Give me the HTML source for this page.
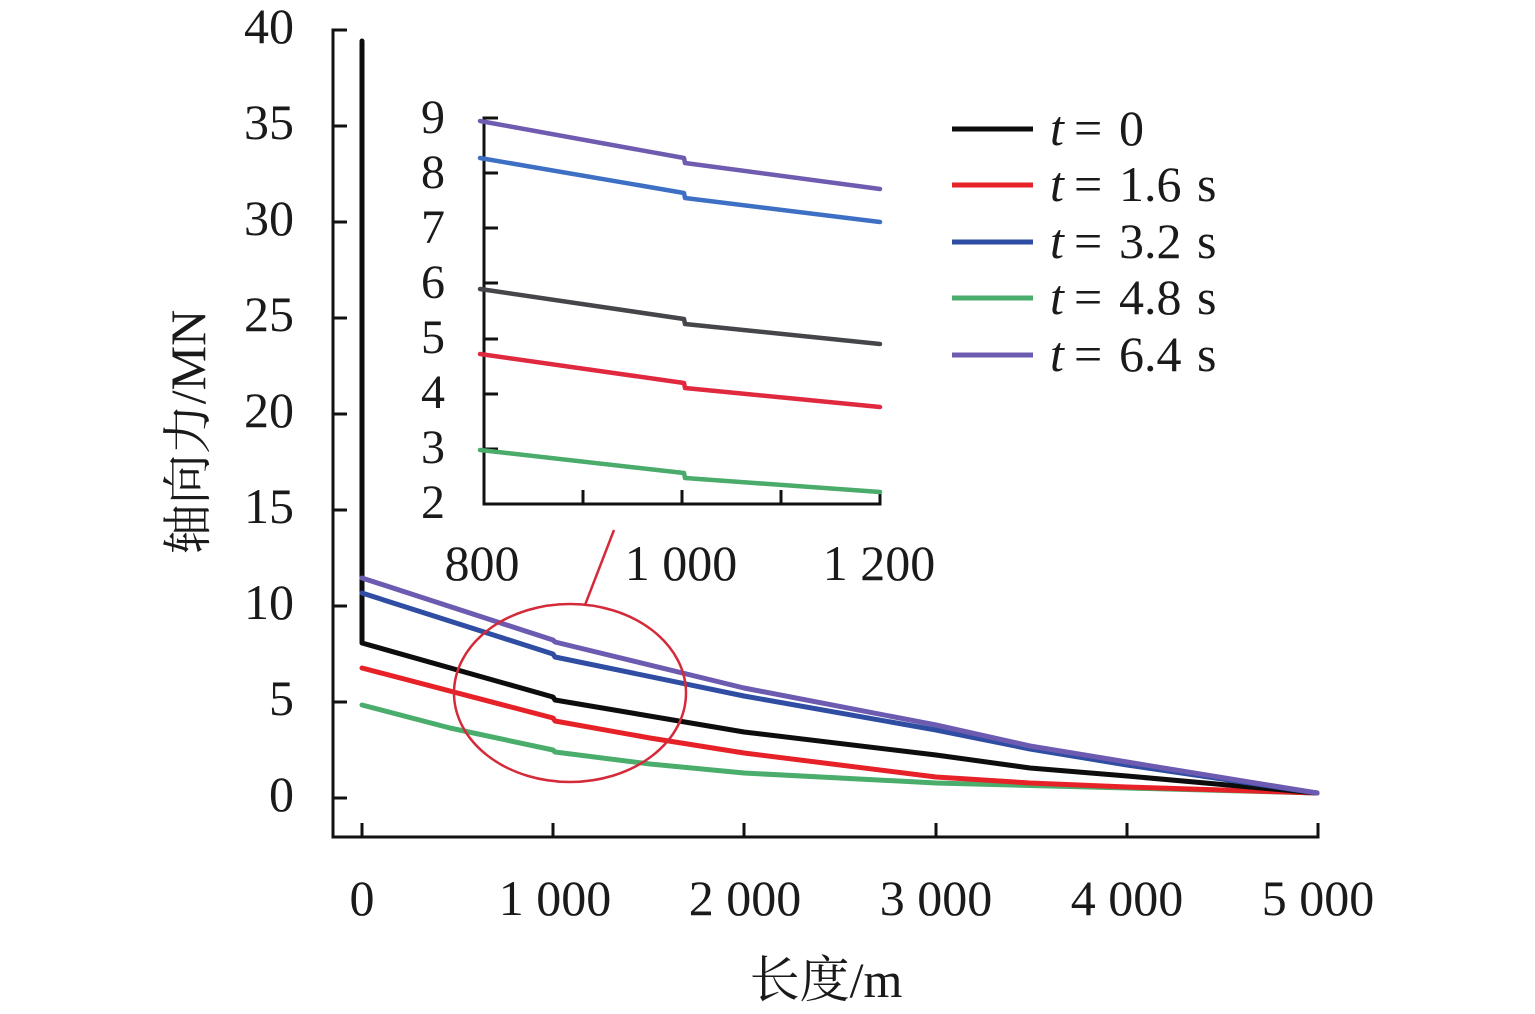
<!DOCTYPE html>
<html>
<head>
<meta charset="utf-8">
<style>
  html,body{margin:0;padding:0;background:#fff;}
  svg{display:block;}
  text{font-family:"Liberation Serif","Noto Serif CJK SC",serif;fill:#1a1a1a;}
</style>
</head>
<body>
<svg width="1535" height="1014" viewBox="0 0 1535 1014" xmlns="http://www.w3.org/2000/svg">
  <rect width="1535" height="1014" fill="#fff"/>

  <!-- Main axes -->
  <g stroke="#111" stroke-width="3" fill="none">
    <polyline points="347,30 333,30 333,837 1318,837 1318,823"/>
    <line x1="333" y1="126" x2="347" y2="126"/>
    <line x1="333" y1="222" x2="347" y2="222"/>
    <line x1="333" y1="318" x2="347" y2="318"/>
    <line x1="333" y1="414" x2="347" y2="414"/>
    <line x1="333" y1="510" x2="347" y2="510"/>
    <line x1="333" y1="606" x2="347" y2="606"/>
    <line x1="333" y1="702" x2="347" y2="702"/>
    <line x1="333" y1="798" x2="347" y2="798"/>
    <line x1="362" y1="837" x2="362" y2="823"/>
    <line x1="553" y1="837" x2="553" y2="823"/>
    <line x1="744" y1="837" x2="744" y2="823"/>
    <line x1="936" y1="837" x2="936" y2="823"/>
    <line x1="1127" y1="837" x2="1127" y2="823"/>
  </g>

  <!-- Main y tick labels -->
  <g font-size="50" text-anchor="end">
    <text x="294" y="43">40</text>
    <text x="294" y="139">35</text>
    <text x="294" y="235">30</text>
    <text x="294" y="331">25</text>
    <text x="294" y="427">20</text>
    <text x="294" y="523">15</text>
    <text x="294" y="619">10</text>
    <text x="294" y="715">5</text>
    <text x="294" y="811">0</text>
  </g>

  <!-- Main x tick labels -->
  <g font-size="50" text-anchor="middle">
    <text x="362" y="915">0</text>
    <text x="555" y="915">1 000</text>
    <text x="745" y="915">2 000</text>
    <text x="936" y="915">3 000</text>
    <text x="1127" y="915">4 000</text>
    <text x="1318" y="915">5 000</text>
  </g>

  <!-- Axis titles -->
  <text x="826" y="997" font-size="50" text-anchor="middle">长度/m</text>
  <text transform="translate(205,432) rotate(-90)" font-size="50" text-anchor="middle">轴向力/MN</text>

  <!-- Main series -->
  <g fill="none" stroke-width="5" stroke-linejoin="round" stroke-linecap="round">
    <polyline stroke="#4aad6c" points="362,705 450,728 553,750 555,752 650,764 744,773 936,783 1127,788 1317,793"/>
    <polyline stroke="#e62228" points="362,668 553,718 555,721 650,738 744,753 936,777 1030,783 1127,787 1317,793"/>
    <polyline stroke="#0d0d0d" points="362,41 362,643 553,697 555,700 744,732 936,755 1030,768 1127,776 1317,793"/>
    <polyline stroke="#2e4da3" points="362,593 553,654 555,657 744,696 936,730 1030,749 1127,765 1317,793"/>
    <polyline stroke="#6c5bb0" points="362,578 553,640 555,642 744,688 936,725 1030,746 1127,762 1317,793"/>
  </g>

  <!-- Ellipse highlight and connector -->
  <ellipse cx="570" cy="693" rx="116" ry="89" fill="none" stroke="#d42a3a" stroke-width="2.5"/>
  <line x1="585" y1="605" x2="614" y2="530" stroke="#d42a3a" stroke-width="2.5"/>

  <!-- Inset axes -->
  <g stroke="#111" stroke-width="3" fill="none">
    <polyline points="498,118 484,118 484,504 880,504 880,490"/>
    <line x1="484" y1="173" x2="498" y2="173"/>
    <line x1="484" y1="228" x2="498" y2="228"/>
    <line x1="484" y1="283" x2="498" y2="283"/>
    <line x1="484" y1="339" x2="498" y2="339"/>
    <line x1="484" y1="394" x2="498" y2="394"/>
    <line x1="484" y1="449" x2="498" y2="449"/>
    <line x1="583" y1="504" x2="583" y2="490"/>
    <line x1="682" y1="504" x2="682" y2="490"/>
    <line x1="781" y1="504" x2="781" y2="490"/>
  </g>

  <!-- Inset y labels -->
  <g font-size="48" text-anchor="end">
    <text x="445" y="133">9</text>
    <text x="445" y="188">8</text>
    <text x="445" y="243">7</text>
    <text x="445" y="298">6</text>
    <text x="445" y="353">5</text>
    <text x="445" y="408">4</text>
    <text x="445" y="463">3</text>
    <text x="445" y="518">2</text>
  </g>

  <!-- Inset x labels -->
  <g font-size="50" text-anchor="middle">
    <text x="482" y="580">800</text>
    <text x="681" y="580">1 000</text>
    <text x="879" y="580">1 200</text>
  </g>

  <!-- Inset series -->
  <g fill="none" stroke-width="4.5" stroke-linejoin="round" stroke-linecap="round">
    <polyline stroke="#6f5bb0" points="480,121 684,158 685,163 880,189"/>
    <polyline stroke="#3d6fc4" points="480,158 684,193 685,198 880,222"/>
    <polyline stroke="#45464a" points="480,289 684,319 685,324 880,344"/>
    <polyline stroke="#e0283f" points="480,354 684,383 685,388 880,407"/>
    <polyline stroke="#4aab6b" points="480,450 684,473 685,478 880,492"/>
  </g>

  <!-- Legend -->
  <g stroke-width="5">
    <line x1="952" y1="129" x2="1033" y2="129" stroke="#0d0d0d"/>
    <line x1="952" y1="185" x2="1033" y2="185" stroke="#e62228"/>
    <line x1="952" y1="242" x2="1033" y2="242" stroke="#2e4da3"/>
    <line x1="952" y1="298" x2="1033" y2="298" stroke="#4aad6c"/>
    <line x1="952" y1="355" x2="1033" y2="355" stroke="#6c5bb0"/>
  </g>
  <g font-size="50">
    <text y="145"><tspan x="1050" font-style="italic">t</tspan><tspan x="1074">=</tspan><tspan x="1119">0</tspan></text>
    <text y="201"><tspan x="1050" font-style="italic">t</tspan><tspan x="1074">=</tspan><tspan x="1119">1.6</tspan><tspan x="1197">s</tspan></text>
    <text y="258"><tspan x="1050" font-style="italic">t</tspan><tspan x="1074">=</tspan><tspan x="1119">3.2</tspan><tspan x="1197">s</tspan></text>
    <text y="314"><tspan x="1050" font-style="italic">t</tspan><tspan x="1074">=</tspan><tspan x="1119">4.8</tspan><tspan x="1197">s</tspan></text>
    <text y="371"><tspan x="1050" font-style="italic">t</tspan><tspan x="1074">=</tspan><tspan x="1119">6.4</tspan><tspan x="1197">s</tspan></text>
  </g>
</svg>
</body>
</html>
